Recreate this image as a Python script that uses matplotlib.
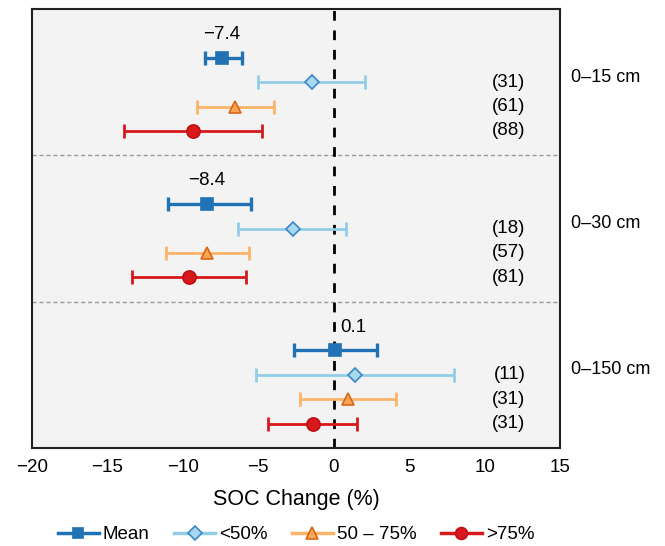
import matplotlib
matplotlib.use("Agg")
import matplotlib.pyplot as plt
from matplotlib.lines import Line2D
import matplotlib.transforms as mtransforms

plt.rcParams['font.family'] = ['Liberation Sans', 'DejaVu Sans']

depths = ["0–15 cm", "0–30 cm", "0–150 cm"]
series = ["Mean", "<50%", "50 – 75%", ">75%"]

# values per depth for each series: (center, low, high)
mean_c = [-7.4, -8.4, 0.1]
mean_lo = [-8.55, -11.0, -2.65]
mean_hi = [-6.1, -5.45, 2.85]

lt50_c = [-1.45, -2.7, 1.4]
lt50_lo = [-5.05, -6.35, -5.15]
lt50_hi = [2.05, 0.8, 7.95]

mid_c = [-6.55, -8.4, 0.95]
mid_lo = [-9.05, -11.1, -2.25]
mid_hi = [-3.95, -5.6, 4.1]

gt75_c = [-9.3, -9.6, -1.4]
gt75_lo = [-13.9, -13.4, -4.35]
gt75_hi = [-4.75, -5.8, 1.55]

n_lt50 = [31, 18, 11]
n_mid = [61, 57, 31]
n_gt75 = [88, 81, 31]

mean_labels = ["−7.4", "−8.4", "0.1"]

fig = plt.figure(figsize=(6.65, 5.46), dpi=100)
ax = fig.add_axes([0.0481, 0.1795, 0.7940, 0.8040])
ax.set_facecolor('#f3f3f3')

styles = [
    dict(color='#2171b5', marker='s', mfc='#2171b5', mec='#2171b5', ms=8, lw=2.4),
    dict(color='#92cde6', marker='D', mfc='#a9d9ef', mec='#3a87c8', ms=7.5, lw=2.0),
    dict(color='#fdb46a', marker='^', mfc='#f9a552', mec='#d9661a', ms=9, lw=2.0),
    dict(color='#d7191c', marker='o', mfc='#d7191c', mec='#c01015', ms=9.5, lw=2.0),
]
data = [(mean_c, mean_lo, mean_hi), (lt50_c, lt50_lo, lt50_hi),
        (mid_c, mid_lo, mid_hi), (gt75_c, gt75_lo, gt75_hi)]

for r, ((c, lo, hi), st) in enumerate(zip(data, styles)):
    ys = [6 * g + r for g in range(3)]
    xerr = [[ci - l for ci, l in zip(c, lo)], [h - ci for ci, h in zip(c, hi)]]
    ax.errorbar(c, ys, xerr=xerr, fmt='none', ecolor=st['color'],
                elinewidth=st['lw'], capsize=5, capthick=st['lw'], zorder=3)
    ax.plot(c, ys, linestyle='none', marker=st['marker'], ms=st['ms'],
            mfc=st['mfc'], mec=st['mec'], mew=1.2, zorder=4)

ax.axvline(0, color='black', lw=2, linestyle=(0, (3.5, 3.5)), zorder=2)
for yd in [4, 10]:
    ax.axhline(yd, color='#9a9a9a', lw=1, linestyle=(0, (3, 2)), zorder=1)

# mean labels
for g in range(3):
    if g < 2:
        ax.text(mean_c[g], 6 * g - 0.95, mean_labels[g], ha='center', va='center', fontsize=13.5)
    else:
        ax.text(0.45, 6 * g - 0.95, mean_labels[g], ha='left', va='center', fontsize=13.5)

# sample sizes
for g in range(3):
    for r, ns in zip([1, 2, 3], [n_lt50, n_mid, n_gt75]):
        ax.text(12.7, 6 * g + r, f"({ns[g]})", ha='right', va='center', fontsize=13.5)

trans = mtransforms.blended_transform_factory(ax.transAxes, ax.transData)
for g, d in enumerate(depths):
    ax.text(1.02, 6 * g + 0.8, d, ha='left', va='center', fontsize=13, transform=trans)

ax.set_xlim(-20, 15)
ax.set_ylim(16, -2)
ax.set_yticks([])
ax.set_xticks([-20, -15, -10, -5, 0, 5, 10, 15])
ax.tick_params(axis='x', length=0, labelsize=13.5, pad=8)
for sp in ax.spines.values():
    sp.set_linewidth(1.5)
    sp.set_color('#222222')
ax.set_xlabel("SOC Change (%)", fontsize=15.5, labelpad=9)

handles = [Line2D([0], [0], color=st['color'], lw=2.5, marker=st['marker'], ms=st['ms'] * 0.9,
                  mfc=st['mfc'], mec=st['mec'], mew=1.2) for st in styles]
ax.legend(handles, series, loc='center', bbox_to_anchor=(0.5, -0.198), ncol=4,
          frameon=False, fontsize=13.5, handlelength=2.2, handletextpad=0.2,
          columnspacing=1.3, borderpad=0.1)

fig.savefig("out.png", dpi=100)
